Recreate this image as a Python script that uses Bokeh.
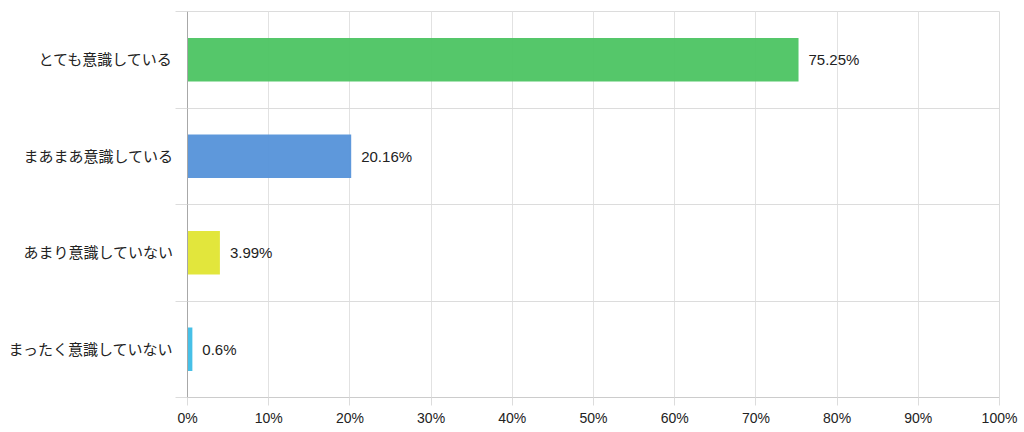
from bokeh.plotting import figure
from bokeh.models import ColumnDataSource, FixedTicker, Range1d, LabelSet
from bokeh.core.properties import value
from bokeh.embed import file_html
from bokeh.resources import INLINE

categories = ["とても意識している", "まあまあ意識している", "あまり意識していない", "まったく意識していない"]
values = [75.25, 20.16, 3.99, 0.6]
value_labels = ["75.25%", "20.16%", "3.99%", "0.6%"]
colors = ["#4cc462", "#5592d9", "#e0e532", "#3dbde6"]
x_ticks = [0, 10, 20, 30, 40, 50, 60, 70, 80, 90, 100]

n = len(categories)
ypos = [n - 1 - i + 0.5 for i in range(n)]

src = ColumnDataSource(dict(y=ypos, v=values, lab=value_labels, c=colors))

FONT = "Liberation Sans"

p = figure(width=1020, height=428, output_backend="svg", toolbar_location=None,
           x_range=Range1d(0, 100), y_range=Range1d(0, n),
           min_border_left=187, min_border_right=21, min_border_top=11, min_border_bottom=30)
p.outline_line_color = "#dcdcdc"

p.hbar(y="y", right="v", left=0, height=0.45, fill_color="c", line_color=None, fill_alpha=0.95, source=src)

labels = LabelSet(x="v", y="y", text="lab", source=src, x_offset=10, y_offset=0,
                  text_baseline="middle", text_font_size="15px", text_color="#222222",
                  text_font=value(FONT))
p.add_layout(labels)

# y axis
p.yaxis.ticker = FixedTicker(ticks=ypos, minor_ticks=list(range(n + 1)))
p.yaxis.major_label_overrides = {y: c for y, c in zip(ypos, categories)}
p.yaxis.major_tick_out = 0
p.yaxis.major_tick_in = 0
p.yaxis.minor_tick_out = 12
p.yaxis.minor_tick_in = 0
p.yaxis.minor_tick_line_color = "#dcdcdc"
p.yaxis.axis_line_color = "#a8a8a8"
p.yaxis.major_label_text_font_size = "15px"
p.yaxis.major_label_text_color = "#222222"
p.yaxis.major_label_text_font = "Liberation Sans, Noto Sans CJK JP"
p.yaxis.major_label_standoff = 2

# x axis
p.xaxis.ticker = FixedTicker(ticks=x_ticks)
p.xaxis.major_label_overrides = {t: f"{t}%" for t in x_ticks}
p.xaxis.major_tick_out = 8
p.xaxis.major_tick_in = 0
p.xaxis.major_tick_line_color = "#dcdcdc"
p.xaxis.minor_tick_line_color = None
p.xaxis.axis_line_color = "#cccccc"
p.xaxis.major_label_text_font_size = "14px"
p.xaxis.major_label_text_color = "#222222"
p.xaxis.major_label_text_font = FONT
p.xaxis.major_label_standoff = 4

p.ygrid.grid_line_color = None
p.ygrid.minor_grid_line_color = "#dcdcdc"
p.xgrid.grid_line_color = "#e2e2e2"

open("out.html", "w").write(file_html(p, INLINE))
